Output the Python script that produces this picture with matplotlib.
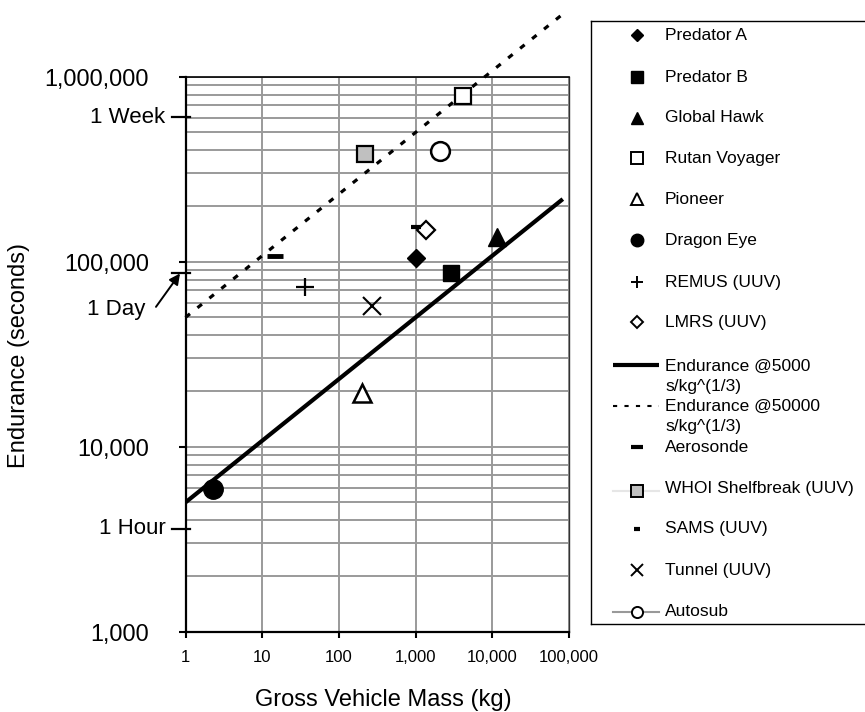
"""Endurance vs gross vehicle mass for UAVs / UUVs, log-log, with two m^(1/3) scaling lines."""

import matplotlib
matplotlib.use("Agg")
import matplotlib.pyplot as plt
from matplotlib.ticker import LogLocator, NullFormatter

plt.rcParams["font.family"] = ["Liberation Sans", "DejaVu Sans"]

# ---- data ------------------------------------------------------------------
names = ["Predator A", "Predator B", "Global Hawk", "Rutan Voyager", "Pioneer",
         "Dragon Eye", "REMUS (UUV)", "LMRS (UUV)", "Aerosonde",
         "WHOI Shelfbreak (UUV)", "SAMS (UUV)", "Tunnel (UUV)", "Autosub"]
mass_kg = [1000, 2900, 11400, 4150, 203, 2.3, 36.6, 1370, 14.6, 218, 1000, 270, 2050]
endurance_s = [105000, 86900, 136000, 787000, 19600, 5930, 73000, 148000, 107000,
               384000, 154000, 57700, 398000]

line_mass = [1, 83000]
line_5000 = [5000, 218000]        # Endurance @5000 s/kg^(1/3)
line_50000 = [50000, 2180000]     # Endurance @50000 s/kg^(1/3)

x_ticks = [1, 10, 100, 1000, 10000, 100000]
x_labels = ["1", "10", "100", "1,000", "10,000", "100,000"]
y_ticks = [1000, 10000, 100000, 1000000]
y_labels = ["1,000", "10,000", "100,000", "1,000,000"]

marks = [("1 Week", 604800), ("1 Day", 86400), ("1 Hour", 3600)]

# marker, size (plot), size (legend), face, edge width
STYLE = {
    "Predator A":            ("D", 9.5, 6.0, "black", 1.0),
    "Predator B":            ("s", 11.5, 8.0, "black", 1.0),
    "Global Hawk":           ("^", 13.0, 8.0, "black", 1.0),
    "Rutan Voyager":         ("s", 12.0, 8.0, "white", 1.6),
    "Pioneer":               ("^", 13.0, 8.0, "white", 1.8),
    "Dragon Eye":            ("o", 14.0, 9.0, "black", 1.0),
    "REMUS (UUV)":           ("+", 13.0, 8.0, "black", 1.6),
    "LMRS (UUV)":            ("D", 9.0, 6.0, "white", 1.6),
    "Aerosonde":             ("_", 12.0, 9.0, "black", 3.5),
    "WHOI Shelfbreak (UUV)": ("s", 11.5, 8.0, "#c0c0c0", 1.6),
    "SAMS (UUV)":            ("_", 7.0, 5.0, "black", 3.0),
    "Tunnel (UUV)":          ("x", 12.5, 8.0, "black", 1.5),
    "Autosub":               ("o", 13.5, 8.0, "white", 1.8),
}

GRID = "#9a9a9a"
W, H = 865, 712


def main():
    fig = plt.figure(figsize=(W / 100, H / 100), dpi=100)
    # plot area in pixels: x 185.5..569, y 76.7..631.7 (from top)
    ax = fig.add_axes([185.5 / W, (H - 631.7) / H, 383.5 / W, 555 / H])
    ax.set_xscale("log"); ax.set_yscale("log")
    ax.set_xlim(1, 100000); ax.set_ylim(1000, 1000000)

    ax.set_xticks(x_ticks); ax.set_xticklabels(x_labels, fontsize=12)
    ax.set_yticks(y_ticks); ax.set_yticklabels(y_labels, fontsize=16.8)
    ax.xaxis.set_minor_locator(LogLocator(base=10, subs=()))
    ax.yaxis.set_minor_locator(LogLocator(base=10, subs=range(2, 10)))
    ax.yaxis.set_minor_formatter(NullFormatter())
    ax.tick_params(axis="x", which="major", direction="out", length=4, width=1.5, pad=9)
    ax.tick_params(axis="y", which="major", direction="out", length=5.4, width=1.5, pad=21)
    ax.tick_params(which="minor", length=0)
    ax.grid(True, which="major", color=GRID, lw=1.4)
    ax.grid(True, which="minor", axis="y", color=GRID, lw=1.4)
    ax.set_axisbelow(True)
    for s in ("left", "bottom"):
        ax.spines[s].set_linewidth(1.6)
    ax.spines["top"].set_linewidth(1.2)
    ax.spines["right"].set_linewidth(1.0); ax.spines["right"].set_color("#333333")

    # scaling lines
    ax.plot(line_mass, line_5000, color="black", lw=3.0, solid_capstyle="butt", zorder=3)
    ax.plot(line_mass, line_50000, color="black", lw=2.3, ls=(0, (1.8, 3.0)),
            clip_on=False, zorder=3)

    # vehicles
    for n, m, e in zip(names, mass_kg, endurance_s):
        mk, ms, _, fc, mew = STYLE[n]
        ax.plot([m], [e], ls="none", marker=mk, ms=ms, mfc=fc, mec="black", mew=mew,
                zorder=4)

    # time reference marks on the y axis
    tr = ax.get_yaxis_transform()
    for lab, v in marks:
        ax.plot([-0.0352, 0.0117], [v, v], color="black", lw=1.6, transform=tr,
                clip_on=False)
        if lab != "1 Day":
            ax.text(-0.052, v, lab, transform=tr, ha="right", va="center", fontsize=16)
    ax.text(-0.105, 55000, "1 Day", transform=tr, ha="right", va="center", fontsize=16)
    ax.annotate("", xy=(-0.0143, 86400), xycoords=tr,
                xytext=(-0.077, 57000), textcoords=tr,
                arrowprops=dict(arrowstyle="-|>", color="black", lw=1.4,
                                mutation_scale=16, shrinkA=0, shrinkB=0))

    fig.text(383 / W, 1 - 700 / H, "Gross Vehicle Mass (kg)", ha="center", va="center",
             fontsize=17)
    fig.text(19.5 / W, 1 - 356 / H, "Endurance (seconds)", ha="center", va="center",
             rotation=90, fontsize=17)

    # ---- legend box, drawn by hand in pixel coordinates ---------------------
    lax = fig.add_axes([591 / W, (H - 624) / H, 290 / W, 603 / H])
    lax.set_xlim(591, 881); lax.set_ylim(624, 21)
    lax.set_xticks([]); lax.set_yticks([])
    for s in lax.spines.values():
        s.set_linewidth(1.0)

    hx, tx = 637, 665
    rows = [35, 77, 118, 158, 199, 240, 282, 322]
    for n, y in zip(names[:8], rows):
        mk, _, ls, fc, mew = STYLE[n]
        lax.plot([hx], [y], ls="none", marker=mk, ms=ls, mfc=fc, mec="black",
                 mew=min(mew, 1.4))
        lax.text(tx, y, n, va="center", fontsize=12.5)

    lax.plot([613, 659], [365, 365], color="black", lw=3.0, solid_capstyle="butt")
    lax.text(tx, 376.5, "Endurance @5000\ns/kg^(1/3)", va="center", fontsize=12.5,
             linespacing=1.5)
    lax.plot([613, 659], [406, 406], color="black", lw=1.5, ls=(0, (2.0, 3.5)))
    lax.text(tx, 416.5, "Endurance @50000\ns/kg^(1/3)", va="center", fontsize=12.5,
             linespacing=1.5)

    rows2 = [447, 489, 529, 570, 612]
    for n, y in zip(names[8:], rows2):
        mk, _, ls, fc, mew = STYLE[n]
        if n == "WHOI Shelfbreak (UUV)":
            lax.plot([613, 659], [y + 2, y + 2], color="#e6e6e6", lw=1.5)
        if n == "Autosub":
            lax.plot([613, 659], [y, y], color="#999999", lw=1.5)
        lax.plot([hx], [y + (2 if n.startswith("WHOI") else 0)], ls="none", marker=mk,
                 ms=ls, mfc=fc, mec="black", mew=min(mew, 3.0) if mk == "_" else 1.4)
        lax.text(tx, y, n, va="center", fontsize=12.5)

    fig.savefig("out.png", dpi=100)


if __name__ == "__main__":
    main()
